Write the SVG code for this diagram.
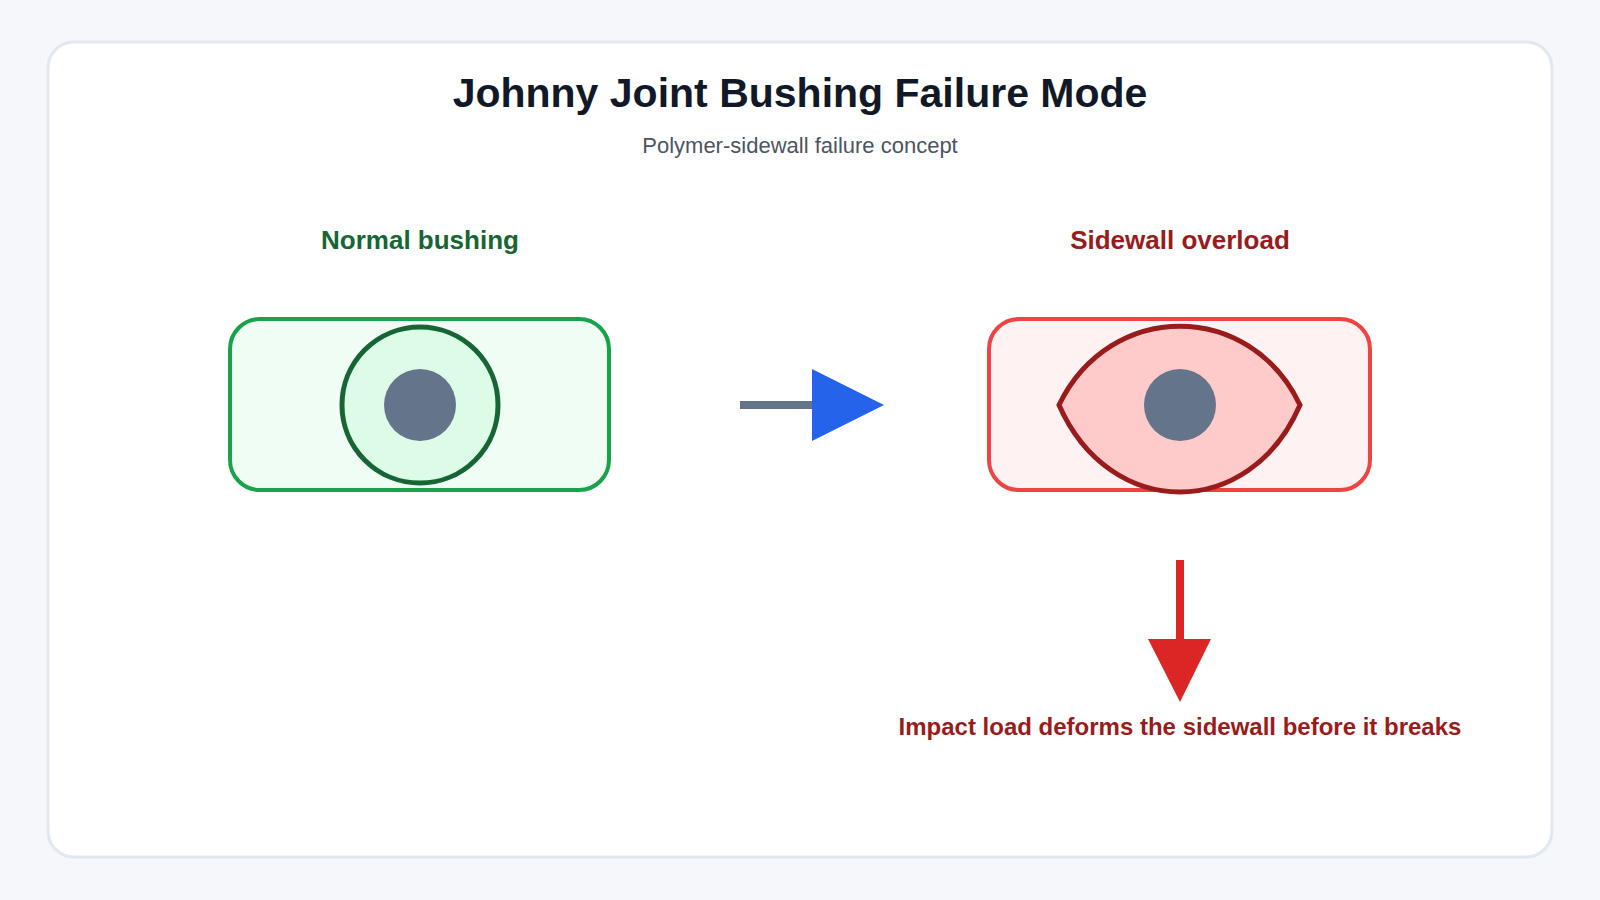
<svg xmlns="http://www.w3.org/2000/svg" width="1600" height="900" viewBox="0 0 1600 900">
<style>
text{font-family:"Liberation Sans",Arial,sans-serif;text-anchor:middle}
.h{font-weight:bold;font-size:26px}
</style>
<rect width="1600" height="900" fill="#f5f7fa"/>
<rect x="48" y="42" width="1504" height="815" rx="26" fill="#fff" stroke="#e2e8f0" stroke-width="3"/>
<text x="800" y="107" font-size="41" font-weight="bold" fill="#111827">Johnny Joint Bushing Failure Mode</text>
<text x="800" y="153" font-size="22" fill="#4b5563">Polymer-sidewall failure concept</text>
<g id="normal">
<text class="h" x="420" y="249" fill="#166534">Normal bushing</text>
<rect x="230" y="319" width="379" height="171" rx="30" fill="#f0fdf4" stroke="#16a34a" stroke-width="4"/>
<circle cx="420" cy="405" r="78" fill="#dcfce7" stroke="#166534" stroke-width="5"/>
<circle cx="420" cy="405" r="36" fill="#64748b"/>
</g>
<g id="overload">
<text class="h" x="1180" y="249" fill="#991b1b">Sidewall overload</text>
<rect x="989" y="319" width="381" height="171" rx="30" fill="#fef2f2" stroke="#ef4444" stroke-width="4"/>
<path d="M1059 405 C1110 300 1250 300 1300 405 C1250 521 1110 521 1059 405 Z" fill="#fecaca" stroke="#991b1b" stroke-width="5"/>
<circle cx="1180" cy="405" r="36" fill="#64748b"/>
</g>
<g id="connectors">
<line x1="740" y1="405" x2="816" y2="405" stroke="#64748b" stroke-width="8"/>
<polygon points="812,369 884,405 812,441" fill="#2563eb"/>
<line x1="1180" y1="560" x2="1180" y2="645" stroke="#dc2626" stroke-width="8"/>
<polygon points="1148,639 1211,639 1180,702" fill="#dc2626"/>
</g>
<text x="1180" y="735" font-size="24" font-weight="bold" fill="#991b1b">Impact load deforms the sidewall before it breaks</text>
</svg>
